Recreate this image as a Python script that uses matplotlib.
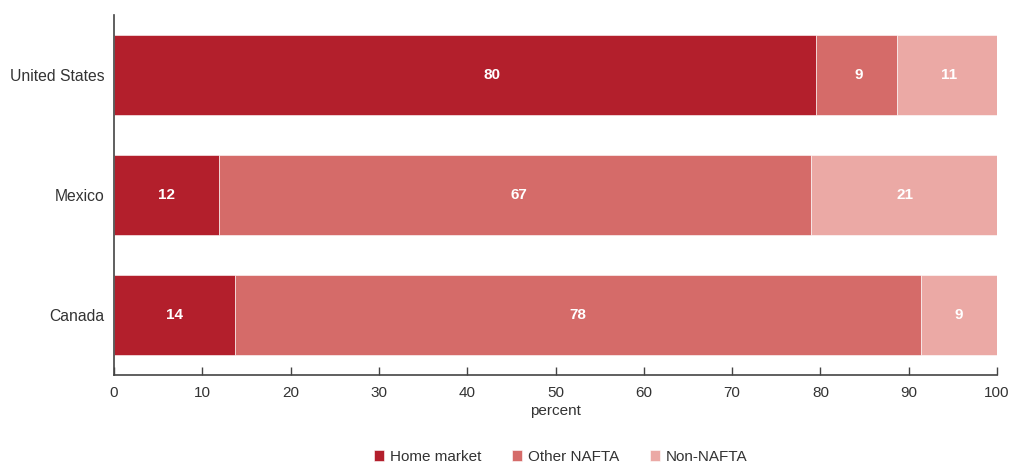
import matplotlib
matplotlib.use("Agg")
import matplotlib.pyplot as plt
import numpy as np

plt.rcParams['font.family'] = ['Liberation Sans', 'DejaVu Sans']

countries = ["Canada", "Mexico", "United States"]
home_market = [13.7, 11.9, 79.5]
other_nafta = [77.7, 67.0, 9.2]
non_nafta = [8.6, 21.1, 11.3]
home_labels = ["14", "12", "80"]
other_labels = ["78", "67", "9"]
non_labels = ["9", "21", "11"]
series_names = ["Home market", "Other NAFTA", "Non-NAFTA"]
colors = ["#B31F2C", "#D56B69", "#EBA9A5"]
xticks = [0, 10, 20, 30, 40, 50, 60, 70, 80, 90, 100]
# small horizontal nudges of the value labels (in data units), as in the original
home_nudge = [0.0, 0.0, 3.1]
other_nudge = [0.0, 0.5, 0.2]
non_nudge = [0.0, 0.1, 0.2]

fig = plt.figure(figsize=(10.1, 4.65), dpi=100)
ax = fig.add_axes([0.1129, 0.1935, 0.8742, 0.7742])

y = np.arange(len(countries))
left = np.zeros(len(countries))
for vals, labs, nudges, name, c in zip([home_market, other_nafta, non_nafta],
                                       [home_labels, other_labels, non_labels],
                                       [home_nudge, other_nudge, non_nudge],
                                       series_names, colors):
    ax.barh(y, vals, left=left, height=0.667, color=c, label=name,
            edgecolor="white", linewidth=0.4)
    for yi, l, v, t, n in zip(y, left, vals, labs, nudges):
        ax.text(l + v / 2 + n, yi, t, ha="center", va="center", color="white",
                fontsize=11, fontweight="bold")
    left = left + np.array(vals)

ax.set_xlim(0, 100)
ax.set_ylim(-0.5, 2.5)
ax.set_yticks(y)
ax.set_yticklabels(countries, fontsize=11.3, color="#333333")
ax.set_xticks(xticks)
ax.set_xticklabels([str(t) for t in xticks], fontsize=11, color="#333333")
ax.tick_params(axis="x", direction="in", length=6, width=1, color="#444444", pad=8)
ax.tick_params(axis="y", length=0, pad=7)
for s in ["top", "right"]:
    ax.spines[s].set_visible(False)
for s in ["left", "bottom"]:
    ax.spines[s].set_color("#444444")
    ax.spines[s].set_linewidth(1.2)
ax.set_xlabel("percent", fontsize=11, color="#333333", labelpad=3)

leg = fig.legend(loc="lower center", bbox_to_anchor=(0.555, -0.027), ncol=3,
                 frameon=False, fontsize=11, handlelength=0.65, handleheight=0.65,
                 handletextpad=0.4, columnspacing=2.0)
for t in leg.get_texts():
    t.set_color("#333333")

fig.savefig("out.png", dpi=100)
